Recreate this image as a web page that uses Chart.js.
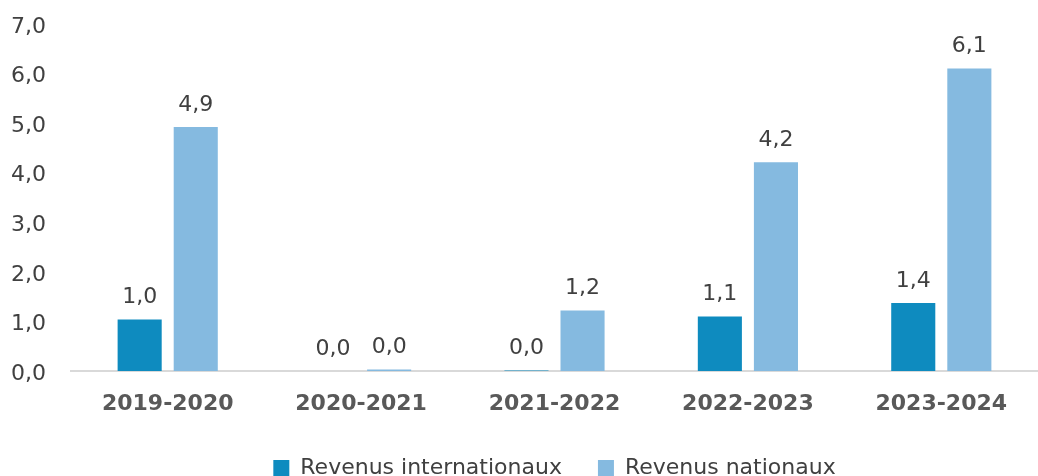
<!DOCTYPE html>
<html>
<head>
<meta charset="utf-8">
<script src="https://cdn.jsdelivr.net/npm/chart.js@4"></script>
<style>
  html, body { margin: 0; padding: 0; background: #ffffff; }
  #wrap { width: 1038px; height: 476px; position: relative; }
</style>
</head>
<body>
<div id="wrap"><canvas id="chart"></canvas></div>
<script>
const CATEGORIES = ["2019-2020", "2020-2021", "2021-2022", "2022-2023", "2023-2024"];
const INTERNATIONAL = [1.04, 0, 0.01, 1.1, 1.37];
const NATIONAL = [4.92, 0.03, 1.22, 4.21, 6.1];
const SERIES_NAMES = ["Revenus internationaux", "Revenus nationaux"];
const Y_TICKS = [0, 1, 2, 3, 4, 5, 6, 7];

const COLORS = {
  intl: "#0e8bbf",
  nat: "#85bae0",
  text: "#404040",
  axisText: "#595959",
  baseline: "#d9d9d9",
};

const FONT = "'DejaVu Sans', sans-serif";
const LEGEND_PAD = 36;

function frNumber(v) {
  return v.toFixed(1).replace(".", ",");
}

// small inline plugin for value labels above the bars
const valueLabels = {
  id: "valueLabels",
  afterDatasetsDraw(chart) {
    const ctx = chart.ctx;
    ctx.save();
    ctx.font = `22px ${FONT}`;
    ctx.fillStyle = COLORS.text;
    ctx.textAlign = "center";
    ctx.textBaseline = "bottom";
    chart.data.datasets.forEach((ds, i) => {
      chart.getDatasetMeta(i).data.forEach((bar, j) => {
        ctx.fillText(frNumber(ds.data[j]), bar.x, bar.y - 11);
      });
    });
    ctx.restore();
  },
};

// legend padding is also the gap between items; pull the row a bit lower
const legendTrim = {
  id: "legendTrim",
  beforeInit(chart) {
    const fit = chart.legend.fit;
    chart.legend.fit = function () {
      fit.bind(chart.legend)();
      this.height -= 13;
    };
  },
};

new Chart(document.getElementById("chart"), {
  type: "bar",
  data: {
    labels: CATEGORIES,
    datasets: [
      { label: SERIES_NAMES[0], data: INTERNATIONAL, backgroundColor: COLORS.intl },
      { label: SERIES_NAMES[1], data: NATIONAL, backgroundColor: COLORS.nat },
    ],
  },
  options: {
    responsive: true,
    maintainAspectRatio: false,
    animation: false,
    categoryPercentage: 0.58,
    barPercentage: 0.786,
    layout: { padding: { top: 24, left: 11, right: 0, bottom: 0 } },
    scales: {
      x: {
        grid: { display: false, drawTicks: false },
        border: { display: true, color: COLORS.baseline, width: 2 },
        ticks: { color: COLORS.axisText, font: { family: FONT, size: 22, weight: "bold" }, padding: 20 },
        afterFit(scale) {
          scale.height = 50;
        },
      },
      y: {
        min: 0,
        max: 7,
        afterBuildTicks(axis) {
          axis.ticks = Y_TICKS.map((v) => ({ value: v }));
        },
        afterFit(scale) {
          scale.width = 60;
        },
        grid: { display: false, drawTicks: false },
        border: { display: false },
        ticks: {
          color: COLORS.text,
          font: { family: FONT, size: 22 },
          padding: 0,
          labelOffset: 3,
          crossAlign: "far",
          callback: (v) => frNumber(v),
        },
      },
    },
    plugins: {
      legend: {
        position: "bottom",
        fullSize: false,
        labels: {
          color: COLORS.text,
          font: { family: FONT, size: 22 },
          boxWidth: 16,
          boxHeight: 16,
          padding: LEGEND_PAD,
        },
      },
      tooltip: { enabled: false },
    },
  },
  plugins: [valueLabels, legendTrim],
});
</script>
</body>
</html>
